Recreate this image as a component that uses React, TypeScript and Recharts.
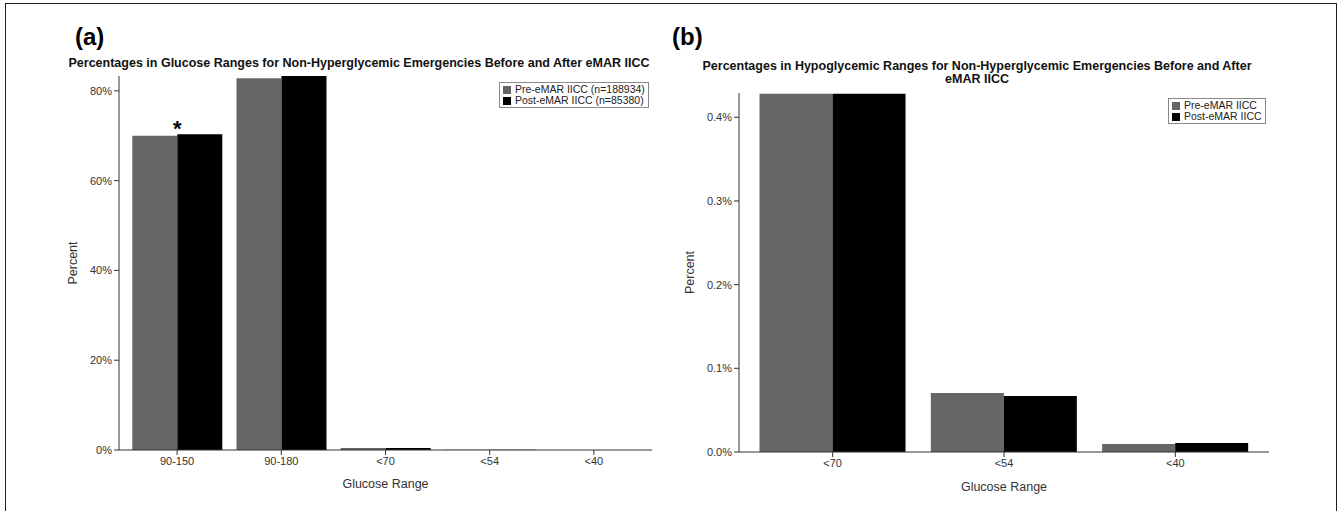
import React from 'react';
import { BarChart, Bar, XAxis, YAxis, LabelList } from 'recharts';

const categoriesA = ['90-150', '90-180', '<70', '<54', '<40'];
const preA = [70.0, 82.8, 0.43, 0.07, 0.01];
const postA = [70.3, 83.3, 0.43, 0.067, 0.011];
const marksA = ['*', '', '', '', ''];
const ticksA = [0, 20, 40, 60, 80];

const categoriesB = ['<70', '<54', '<40'];
const preB = [0.428, 0.0705, 0.0096];
const postB = [0.428, 0.067, 0.0108];
const ticksB = [0, 0.1, 0.2, 0.3, 0.4];

const PRE = '#666666';
const POST = '#000000';
const FONT = '"Liberation Sans", Arial, sans-serif';

const dataA = categoriesA.map((c, i) => ({ range: c, pre: preA[i], post: postA[i], mark: marksA[i] }));
const dataB = categoriesB.map((c, i) => ({ range: c, pre: preB[i], post: postB[i] }));

const tickStyle = { fill: '#333', fontSize: 11, fontFamily: FONT };

function Star(props: any) {
  const { x, y, value } = props;
  if (!value) return null;
  return (
    <text x={x} y={y + 2} textAnchor="middle" fontSize={22} fontWeight="bold" fontFamily={FONT} fill="#000">
      {value}
    </text>
  );
}

function LegendBox({ left, top, labels }: { left: number; top: number; labels: string[] }) {
  const colors = [PRE, POST];
  return (
    <div style={{ position: 'absolute', left, top, border: '1px solid #888', padding: '1px 3px 1px 3px', background: '#fff', fontFamily: FONT, fontSize: 10.5, color: '#222', lineHeight: '11px' }}>
      {labels.map((l, i) => (
        <div key={l} style={{ display: 'flex', alignItems: 'center', whiteSpace: 'nowrap' }}>
          <span style={{ display: 'inline-block', width: 8, height: 8, background: colors[i], marginRight: 4 }} />
          {l}
        </div>
      ))}
    </div>
  );
}

export default function App() {
  return (
    <div style={{ position: 'absolute', left: 0, top: 0, width: 1338, height: 511, background: '#fff', overflow: 'hidden' }}>
      <div style={{ position: 'absolute', left: 5, top: 3, width: 1330, height: 520, border: '1.5px solid #222' }} />

      {/* panel (a) */}
      <div style={{ position: 'absolute', left: 75, top: 23, fontFamily: FONT, fontWeight: 'bold', fontSize: 24 }}>(a)</div>
      <div style={{ position: 'absolute', left: 59, width: 600, top: 56, textAlign: 'center', whiteSpace: 'nowrap', fontFamily: FONT, fontWeight: 'bold', fontSize: 12.5, color: '#111' }}>
        Percentages in Glucose Ranges for Non-Hyperglycemic Emergencies Before and After eMAR IICC
      </div>
      <div style={{ position: 'absolute', left: 0, top: 0 }}>
        <BarChart width={669} height={511} data={dataA} margin={{ top: 76, right: 17, bottom: 21, left: 69 }} barCategoryGap="7%" barGap={0}>
          <XAxis dataKey="range" padding={{ left: 6, right: 6 }} tick={tickStyle} tickSize={5} stroke="#333" height={40} interval={0}
            label={{ value: 'Glucose Range', position: 'insideBottom', offset: 2, style: { fill: '#333', fontSize: 12.5, fontFamily: FONT } }} />
          <XAxis xAxisId="top" dataKey="range" orientation="top" tick={false} tickLine={false} height={0} stroke="#999" />
          <YAxis domain={[0, 83.3]} ticks={ticksA} tickFormatter={(v: number) => `${v}%`} tick={tickStyle} tickSize={5} stroke="#333" width={50}
            label={{ value: 'Percent', angle: -90, position: 'insideLeft', offset: 4, style: { textAnchor: 'middle', fill: '#333', fontSize: 12.5, fontFamily: FONT } }} />
          <YAxis yAxisId="right" orientation="right" domain={[0, 83.3]} tick={false} tickLine={false} width={0} stroke="#999" />
          <Bar dataKey="pre" fill={PRE} isAnimationActive={false} />
          <Bar dataKey="post" fill={POST} isAnimationActive={false}>
            <LabelList dataKey="mark" content={<Star />} />
          </Bar>
        </BarChart>
      </div>
      <LegendBox left={499} top={82} labels={['Pre-eMAR IICC (n=188934)', 'Post-eMAR IICC (n=85380)']} />

      {/* panel (b) */}
      <div style={{ position: 'absolute', left: 672, top: 23, fontFamily: FONT, fontWeight: 'bold', fontSize: 24 }}>(b)</div>
      <div style={{ position: 'absolute', left: 677, width: 600, top: 60, textAlign: 'center', whiteSpace: 'nowrap', fontFamily: FONT, fontWeight: 'bold', fontSize: 12.5, lineHeight: '13px', color: '#111' }}>
        Percentages in Hypoglycemic Ranges for Non-Hyperglycemic Emergencies Before and After
        <br />
        eMAR IICC
      </div>
      <div style={{ position: 'absolute', left: 669, top: 0 }}>
        <BarChart width={669} height={511} data={dataB} margin={{ top: 93, right: 69, bottom: 19, left: 20 }} barCategoryGap="7.3%" barGap={0}>
          <XAxis dataKey="range" padding={{ left: 8, right: 8 }} tick={tickStyle} tickSize={5} stroke="#333" height={40} interval={0}
            label={{ value: 'Glucose Range', position: 'insideBottom', offset: 1, style: { fill: '#333', fontSize: 12.5, fontFamily: FONT } }} />
          <XAxis xAxisId="top" dataKey="range" orientation="top" tick={false} tickLine={false} height={0} stroke="#999" />
          <YAxis domain={[0, 0.429]} ticks={ticksB} tickFormatter={(v: number) => `${v.toFixed(1)}%`} tick={tickStyle} tickSize={5} stroke="#333" width={50}
            label={{ value: 'Percent', angle: -90, position: 'insideLeft', offset: 1, style: { textAnchor: 'middle', fill: '#333', fontSize: 12.5, fontFamily: FONT } }} />
          <YAxis yAxisId="right" orientation="right" domain={[0, 0.429]} tick={false} tickLine={false} width={0} stroke="#999" />
          <Bar dataKey="pre" fill={PRE} isAnimationActive={false} />
          <Bar dataKey="post" fill={POST} isAnimationActive={false} />
        </BarChart>
      </div>
      <LegendBox left={1168} top={98} labels={['Pre-eMAR IICC', 'Post-eMAR IICC']} />
    </div>
  );
}
